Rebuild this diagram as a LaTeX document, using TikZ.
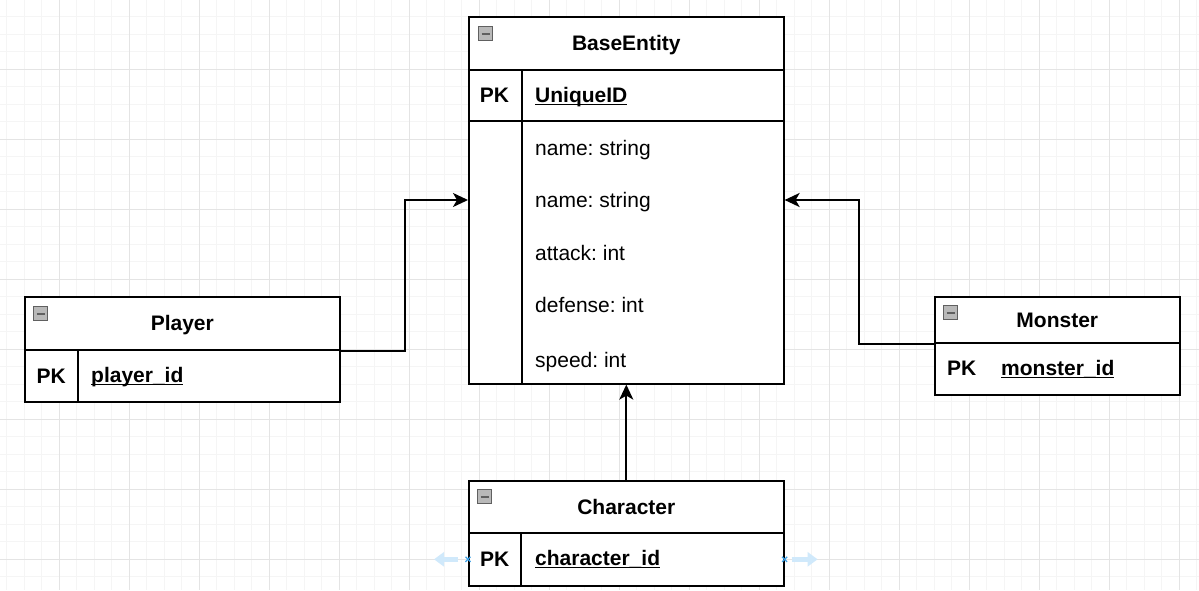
\documentclass[tikz,border=0pt]{standalone}
\usepackage{fontspec}
\setmainfont{Liberation Sans}
\usetikzlibrary{arrows.meta, positioning, backgrounds}

\definecolor{gridminor}{RGB}{245,245,245}
\definecolor{gridmajor}{RGB}{228,228,228}
\definecolor{hoverblue}{RGB}{208,233,251}
\definecolor{markblue}{RGB}{60,160,230}

\tikzstyle{entity} = [rectangle, draw=black, line width=1.6pt, fill=white, inner sep=0pt, anchor=north west]
\tikzstyle{title} = [font=\bfseries\fontsize{21}{25}\selectfont, inner sep=0pt, text height=15pt, text depth=0pt]
\tikzstyle{field} = [font=\fontsize{21}{25}\selectfont, inner sep=0pt, text height=15pt, text depth=0pt, anchor=west]
\tikzstyle{key} = [font=\bfseries\fontsize{21}{25}\selectfont, inner sep=0pt, text height=15pt, text depth=0pt]
\tikzstyle{arrow} = [line width=2pt, -{Stealth[length=15pt,width=14pt,inset=4pt]}]
\tikzstyle{hover} = [draw=hoverblue, line width=4.5pt, -{Triangle[length=10pt,width=14pt]}]
\tikzstyle{collapse} = [rectangle, draw=gray!75!black, fill=gray!55, line width=1.2pt, minimum size=14pt, inner sep=0pt, anchor=north west,
  path picture={\draw[line width=2.2pt] ([xshift=3pt]path picture bounding box.west) -- ([xshift=-3pt]path picture bounding box.east);}]

% bold key with a heavier underline
\newcommand{\keyname}[1]{\bfseries\setbox0\hbox{#1}\rlap{\rule[-2.8pt]{\wd0}{1.5pt}}\box0}

\begin{document}
\frenchspacing
\begin{tikzpicture}[x=1pt, y=-1pt]
    \useasboundingbox (0,0) rectangle (1199,590);

    % Grid
    \begin{scope}[on background layer]
        \fill[white] (0,0) rectangle (1199,590);
        \foreach \k in {0,...,69} \draw[gridminor, line width=1pt] ({-10.7+17.5*\k},0) -- ({-10.7+17.5*\k},590);
        \foreach \k in {0,...,34} \draw[gridminor, line width=1pt] (0,{-0.7+17.5*\k}) -- (1199,{-0.7+17.5*\k});
        \foreach \k in {0,...,17} \draw[gridmajor, line width=1pt] ({-10.7+70*\k},0) -- ({-10.7+70*\k},590);
        \foreach \k in {0,...,9} \draw[gridmajor, line width=1pt] (0,{-0.7+70*\k}) -- (1199,{-0.7+70*\k});
    \end{scope}

    % BaseEntity
    \node (baseHead) [entity, minimum width=315pt, minimum height=53pt] at (468,16) {};
    \node (baseBody) [entity, minimum width=315pt, minimum height=314pt] at (468,69) {};
    \node (baseKey) [entity, minimum width=53pt, minimum height=314pt] at (468,69) {};
    \draw[line width=1.6pt] ([yshift=-52pt]baseBody.north west) -- ([yshift=-52pt]baseBody.north east);
    \node (baseIcon) [collapse] at (478,26) {};
    \node (baseTitle) [title] at (baseHead) {BaseEntity};
    \node (basePK) [key] at (494.5,95) {PK};
    \node (baseId) [field] at (535,95) {\keyname{UniqueID}};
    \node (baseName1) [field] at (535,148) {name: string};
    \node (baseName2) [field] at (535,200) {name: string};
    \node (baseAttack) [field] at (535,253) {attack: int};
    \node (baseDefense) [field] at (535,305) {defense: int};
    \node (baseSpeed) [field] at (535,360) {speed: int};

    % Player
    \node (playerHead) [entity, minimum width=315pt, minimum height=53pt] at (24,296) {};
    \node (playerBody) [entity, minimum width=315pt, minimum height=52pt] at (24,349) {};
    \node (playerKey) [entity, minimum width=53pt, minimum height=52pt] at (24,349) {};
    \node (playerIcon) [collapse] at (33,306) {};
    \node (playerTitle) [title] at (playerHead) {Player};
    \node (playerPK) [key] at (playerKey) {PK};
    \node (playerId) [field] at (91,375) {\keyname{player\_id}};

    % Monster
    \node (monsterHead) [entity, minimum width=245pt, minimum height=46pt] at (934,296) {};
    \node (monsterBody) [entity, minimum width=245pt, minimum height=52pt] at (934,342) {};
    \node (monsterIcon) [collapse] at (943,305) {};
    \node (monsterTitle) [title] at (monsterHead) {Monster};
    \node (monsterPK) [key, anchor=west] at (947,368) {PK};
    \node (monsterId) [field] at (1001,368) {\keyname{monster\_id}};

    % Character
    \node (charHead) [entity, minimum width=315pt, minimum height=52pt] at (468,480) {};
    \node (charBody) [entity, minimum width=315pt, minimum height=53pt] at (468,532) {};
    \node (charKey) [entity, minimum width=52pt, minimum height=53pt] at (468,532) {};
    \node (charIcon) [collapse] at (477,489) {};
    \node (charTitle) [title] at (charHead) {Character};
    \node (charPK) [key] at (charKey) {PK};
    \node (charId) [field] at (535,558) {\keyname{character\_id}};

    % Inheritance
    \draw [arrow] (playerHead.south east) -- ++(64,0) |- (baseBody.west |- baseName2);
    \draw [arrow] (monsterHead.south west) -- ++(-75,0) |- (baseBody.east |- baseName2);
    \draw [arrow] (charHead.north) -- (baseBody.south);

    % Hover handles
    \draw [hover] ([xshift=-10pt]charBody.west) -- ++(-24,0);
    \draw [hover] ([xshift=7pt]charBody.east) -- ++(26,0);
    \draw [markblue, line width=1.3pt] (charBody.west) +(-2.5,-2.5) -- +(2.5,2.5) +(-2.5,2.5) -- +(2.5,-2.5);
    \draw [markblue, line width=1.3pt] (charBody.east) +(-2.5,-2.5) -- +(2.5,2.5) +(-2.5,2.5) -- +(2.5,-2.5);
\end{tikzpicture}
\end{document}
